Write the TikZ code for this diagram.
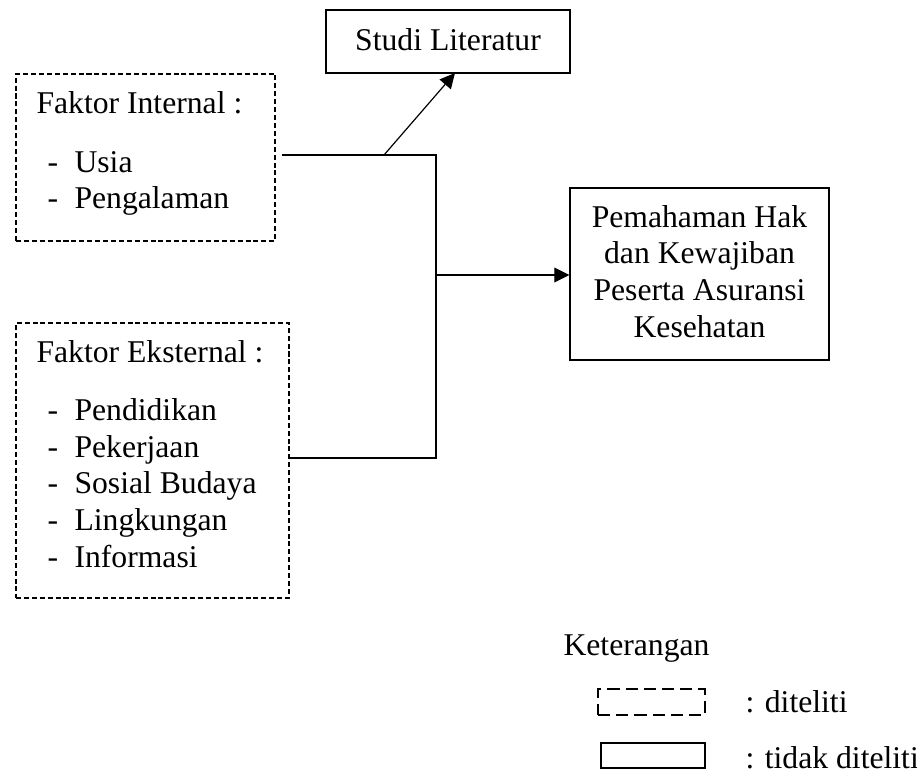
\documentclass[tikz,border=0pt]{standalone}
\usepackage{fontspec}
\setmainfont{Liberation Serif}
\usetikzlibrary{arrows.meta}
\begin{document}
\begin{tikzpicture}[x=0.379pt,y=-0.379pt,
  font=\fontsize{12pt}{14pt}\selectfont,
  txt/.style={inner sep=0pt,anchor=base west},
  ctxt/.style={inner sep=0pt,anchor=base},
  dashbox/.style={draw,line width=0.45pt,dash pattern=on 1.9pt off 1.1pt,inner sep=0pt},
  solidbox/.style={draw,line width=0.45pt,inner sep=0pt},
  legdash/.style={draw,line width=1pt,dash pattern=on 4.6pt off 2.3pt,inner sep=0pt},
  legsolid/.style={draw,line width=1pt,inner sep=0pt},
  conn/.style={line width=0.45pt},
  arr/.style={line width=0.45pt,-{Triangle[length=5.7pt,width=5.6pt]}}]
\useasboundingbox (0,0) rectangle (917,771);
% boxes
\node[dashbox,minimum width=259*0.379pt,minimum height=167*0.379pt] (intbox) at (145.5,157.5) {};
\node[dashbox,minimum width=273*0.379pt,minimum height=275*0.379pt] (extbox) at (152.5,460.5) {};
\node[solidbox,minimum width=244*0.379pt,minimum height=63*0.379pt] (studi) at (448,41.5) {};
\node[solidbox,minimum width=259*0.379pt,minimum height=172*0.379pt] (pem) at (699.5,274) {};
% texts internal
\node[txt] (ti) at (36,113) {Faktor Internal :};
\node[txt] (d1) at (47,172) {-};
\node[txt] (i1) at (74,172) {Usia};
\node[txt] (d2) at (47,208) {-};
\node[txt] (i2) at (74,208) {Pengalaman};
% texts external
\node[txt] (te) at (36,362) {Faktor Eksternal :};
\node[txt] (d3) at (47,420) {-};
\node[txt] (e1) at (74,420) {Pendidikan};
\node[txt] (d4) at (47,457) {-};
\node[txt] (e2) at (74,457) {Pekerjaan};
\node[txt] (d5) at (47,493) {-};
\node[txt] (e3) at (74,493) {Sosial Budaya};
\node[txt] (d6) at (47,530) {-};
\node[txt] (e4) at (74,530) {Lingkungan};
\node[txt] (d7) at (47,567) {-};
\node[txt] (e5) at (74,567) {Informasi};
% studi text
\node[ctxt] (ts) at (448,50) {Studi Literatur};
% pemahaman text
\node[ctxt] (p1) at (699.5,227) {Pemahaman Hak};
\node[ctxt] (p2) at (699.5,263) {dan Kewajiban};
\node[ctxt] (p3) at (699.5,300) {Peserta Asuransi};
\node[ctxt] (p4) at (699.5,337) {Kesehatan};
% connectors
\coordinate (j1) at (436,155);
\coordinate (j2) at (436,458);
\coordinate (j3) at (436,275);
\coordinate (d0) at (384,155);
\coordinate (dtip) at (455,73);
\draw[conn] ([xshift=2.5pt]intbox.east |- j1) -- (j1) -- (j2) -- (extbox.east |- j2);
\draw[arr] (j3) -- (pem.west |- j3);
\draw[arr] (d0) -- (dtip);
% legend
\node[txt] (ket) at (563,655) {Keterangan};
\node[legdash,minimum width=107*0.379pt,minimum height=26*0.379pt] (lg1) at (651.5,702) {};
\node[legsolid,minimum width=104*0.379pt,minimum height=25*0.379pt] (lg2) at (653,755.5) {};
\node[txt] (l1) at (745,712) {: diteliti};
\node[txt] (l2) at (745,768) {: tidak diteliti};
\end{tikzpicture}
\end{document}
